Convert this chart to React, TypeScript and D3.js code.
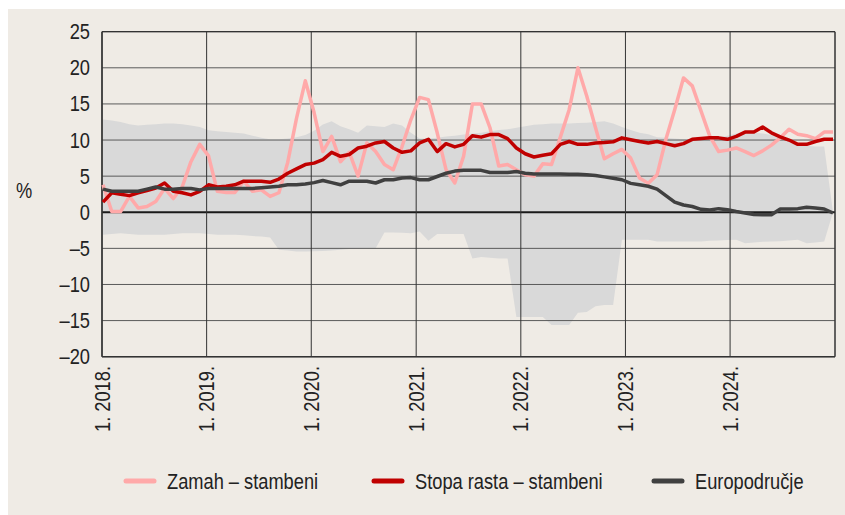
import React from 'react';
import * as d3 from 'd3';

// Monthly data, Jan 2018 – Dec 2024
const zamah = [
  3.8, 0.1, 0.1, 2.2, 0.6, 0.8, 1.5, 3.3, 1.9, 3.5, 7.0, 9.4,
  7.8, 2.9, 2.75, 2.75, 4.3, 2.9, 3.1, 2.2, 2.7, 6.9, 13.0, 18.2,
  13.8, 8.4, 10.5, 7.0, 8.3, 5.0, 9.6, 8.4, 6.6, 5.9, 9.1, 12.8,
  15.9, 15.6, 11.0, 5.9, 4.05, 7.75, 15.0, 15.0, 11.7, 6.4, 6.6, 5.9,
  5.2, 5.0, 6.7, 6.6, 10.4, 14.2, 20.0, 16.1, 11.7, 7.4, 8.1, 8.7,
  7.5, 4.75, 4.0, 5.2, 10.1, 14.2, 18.6, 17.5, 14.0, 10.5, 8.4, 8.6,
  8.9, 8.4, 7.85, 8.5, 9.3, 10.3, 11.5, 10.8, 10.6, 10.2, 11.1, 11.1,
];
const stopa = [
  1.4, 2.7, 2.5, 2.3, 2.7, 3.0, 3.35, 4.05, 2.9, 2.7, 2.4, 2.9,
  3.8, 3.5, 3.6, 3.8, 4.3, 4.3, 4.3, 4.15, 4.6, 5.4, 6.0, 6.6,
  6.8, 7.3, 8.3, 7.75, 8.0, 8.9, 9.15, 9.6, 9.8, 8.9, 8.3, 8.5,
  9.6, 10.1, 8.4, 9.5, 9.05, 9.4, 10.6, 10.4, 10.75, 10.75, 10.2, 8.9,
  8.1, 7.65, 7.9, 8.1, 9.4, 9.8, 9.4, 9.4, 9.6, 9.65, 9.75, 10.3,
  10.05, 9.8, 9.6, 9.8, 9.5, 9.2, 9.5, 10.1, 10.2, 10.3, 10.3, 10.1,
  10.5, 11.1, 11.1, 11.8, 11.0, 10.45, 10.0, 9.4, 9.4, 9.8, 10.1, 10.1,
];
const euro = [
  3.2, 2.9, 2.9, 2.9, 2.9, 3.2, 3.5, 3.2, 3.2, 3.3, 3.3, 3.1,
  3.3, 3.3, 3.3, 3.3, 3.3, 3.3, 3.4, 3.5, 3.6, 3.8, 3.8, 3.9,
  4.1, 4.4, 4.1, 3.8, 4.3, 4.3, 4.3, 4.05, 4.5, 4.5, 4.75, 4.8,
  4.5, 4.5, 4.95, 5.4, 5.7, 5.8, 5.8, 5.8, 5.5, 5.5, 5.5, 5.65,
  5.4, 5.3, 5.3, 5.3, 5.3, 5.25, 5.25, 5.2, 5.1, 4.9, 4.7, 4.5,
  4.0, 3.8, 3.6, 3.2, 2.3, 1.4, 1.0, 0.8, 0.4, 0.3, 0.5, 0.35,
  0.1, -0.1, -0.3, -0.35, -0.35, 0.45, 0.45, 0.5, 0.7, 0.6, 0.45, -0.1,
];
const bandHigh = [
  12.85, 12.7, 12.5, 12.2, 12.0, 12.1, 12.2, 12.3, 12.3, 12.2, 12.0, 11.8,
  11.35, 11.2, 11.1, 11.0, 10.9, 10.6, 10.3, 10.1, 10.1, 10.2, 10.4, 10.7,
  11.3, 12.15, 12.6, 11.9, 11.5, 11.0, 12.0, 11.9, 11.8, 12.3, 12.0, 11.0,
  10.2, 10.2, 10.3, 10.5, 10.6, 10.75, 10.9, 11.0, 11.2, 11.4, 11.5, 11.7,
  11.9, 12.1, 12.2, 12.3, 12.3, 12.3, 12.35, 12.4, 12.5, 12.6, 12.3, 11.8,
  11.4, 11.0, 10.8, 10.4, 10.3, 10.2, 10.1, 10.0, 10.0, 10.1, 10.3, 10.6,
  10.9, 11.0, 11.0, 10.9, 10.7, 10.4, 9.9, 9.4, 9.2, 9.1, 9.1, 0,
];
const bandLow = [
  -3.1, -3.0, -2.9, -3.0, -3.1, -3.1, -3.1, -3.1, -3.0, -2.9, -2.9, -2.9,
  -3.0, -3.1, -3.1, -3.1, -3.2, -3.3, -3.35, -3.5, -5.2, -5.3, -5.45, -5.45,
  -5.4, -5.35, -5.3, -5.2, -5.1, -5.05, -5.0, -5.0, -2.8, -2.8, -2.85, -2.9,
  -2.65, -3.95, -3.0, -3.0, -3.0, -3.0, -6.4, -6.2, -6.3, -6.4, -6.4, -14.5,
  -14.5, -14.5, -14.5, -15.6, -15.6, -15.6, -13.9, -13.8, -13.0, -12.85, -12.85, -3.8,
  -3.8, -3.8, -3.8, -4.05, -4.05, -4.05, -4.05, -4.05, -4.05, -3.95, -3.9, -3.85,
  -3.8, -4.3, -4.2, -4.1, -4.05, -4.0, -3.9, -3.8, -4.3, -4.2, -4.05, 0,
];
const yTicks = [25, 20, 15, 10, 5, 0, -5, -10, -15, -20];
const years = [2018, 2019, 2020, 2021, 2022, 2023, 2024];
const yearLabels = ['1. 2018.', '1. 2019.', '1. 2020.', '1. 2021.', '1. 2022.', '1. 2023.', '1. 2024.'];
const seriesNames = ['Zamah – stambeni', 'Stopa rasta – stambeni', 'Europodručje'];
const seriesColors = ['#ffa9a9', '#c00000', '#404040'];

const FONT = "'Liberation Sans', Arial, sans-serif";
const FS = 22;
const SX = 0.83; // horizontal condensing to mimic a condensed face

export default function App() {
  const W = 845, H = 515;
  const left = 102, right = 835, top = 31.7, bottom = 356.7;
  const y = d3.scaleLinear().domain([-20, 25]).range([bottom, top]);
  const xt = d3.scaleTime().domain([new Date(2018, 0, 1), new Date(2025, 0, 1)]).range([left, right]);
  const xi = d3.scaleLinear().domain([0, zamah.length - 1]).range([103, 833]);

  const line = (vals: number[]) =>
    d3.line<number>().x((_, i) => xi(i)).y((d) => y(d))(vals) || '';
  const area = d3.area<number>()
    .x((_, i) => xi(i))
    .y0((_, i) => y(bandLow[i]))
    .y1((d) => y(d))(bandHigh) || '';

  const fmt = (v: number) => (v < 0 ? '–' + Math.abs(v) : String(v));
  const legendX = [124, 372, 652];

  return (
    <svg width={W} height={H} style={{ position: 'absolute', left: 0, top: 0, background: '#fff' }}>
      <rect x={8} y={9} width={W - 8} height={H - 9} fill="#efebe5" />
      <path d={area} fill="#d9d9d9" />
      {yTicks.map((t) => (
        <line key={'h' + t} x1={left} x2={right} y1={y(t)} y2={y(t)}
          stroke={t === 0 ? '#1a1a1a' : '#5a5a5a'} strokeWidth={t === 0 ? 2 : 1} />
      ))}
      {years.map((yr) => (
        <line key={'v' + yr} x1={xt(new Date(yr, 0, 1))} x2={xt(new Date(yr, 0, 1))} y1={top} y2={bottom}
          stroke="#333" strokeWidth={1} />
      ))}
      <line x1={right} x2={right} y1={top} y2={bottom} stroke="#333" strokeWidth={1.5} />
      <line x1={left} x2={left} y1={top} y2={bottom} stroke="#333" strokeWidth={1.5} />
      <line x1={left} x2={right} y1={bottom} y2={bottom} stroke="#333" strokeWidth={1.5} />
      <line x1={left} x2={right} y1={top} y2={top} stroke="#333" strokeWidth={1.2} />

      <path d={line(zamah)} fill="none" stroke={seriesColors[0]} strokeWidth={3.5} strokeLinejoin="round" />
      <path d={line(stopa)} fill="none" stroke={seriesColors[1]} strokeWidth={3.5} strokeLinejoin="round" />
      <path d={line(euro)} fill="none" stroke={seriesColors[2]} strokeWidth={3.5} strokeLinejoin="round" />

      {yTicks.map((t) => (
        <text key={'yl' + t} transform={`translate(90,${y(t) + 7.5}) scale(${SX},1)`} textAnchor="end"
          fontFamily={FONT} fontSize={FS} fill="#222">
          {fmt(t)}
        </text>
      ))}
      <text transform={`translate(24,198) scale(${SX},1)`} textAnchor="middle" fontFamily={FONT} fontSize={FS} fill="#222">%</text>

      {years.map((yr, i) => {
        const xg = xt(new Date(yr, 0, 1));
        return (
          <text key={'xl' + yr} transform={`translate(${xg + 7.5},366) rotate(-90) scale(${SX},1)`} textAnchor="end"
            fontFamily={FONT} fontSize={FS} fill="#222">
            {yearLabels[i]}
          </text>
        );
      })}

      {seriesNames.map((n, i) => (
        <g key={n} transform={`translate(${legendX[i]},481)`}>
          <line x1={2} x2={30} y1={0} y2={0} stroke={seriesColors[i]} strokeWidth={5} strokeLinecap="round" />
          <text transform={`translate(43,7.5) scale(${SX},1)`} fontFamily={FONT} fontSize={FS} fill="#222">{n}</text>
        </g>
      ))}
    </svg>
  );
}
